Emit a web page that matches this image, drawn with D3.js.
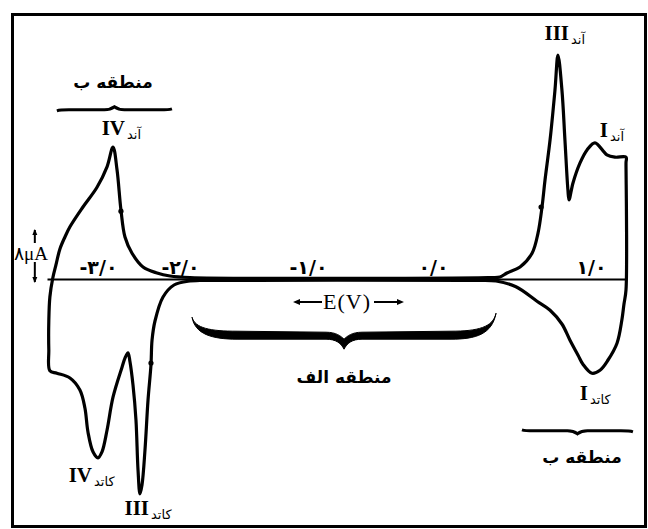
<!DOCTYPE html>
<html><head><meta charset="utf-8">
<script src="https://cdn.jsdelivr.net/npm/d3@7"></script>
<style>body{margin:0;background:#fff} svg{display:block}</style>
</head><body>
<svg id="c" width="648" height="529"></svg>
<script>
// ---- axis ticks (E in V, Persian labels) ----
const tickValues = [-3, -2, -1, 0, 1];
const tickLabels = ["-۳/۰", "-۲/۰", "-۱/۰", "۰/۰", "۱/۰"];
const axisDomainE = [-3.62, -3, -2, -1, 0, 1, 1.222];

// ---- anodic (forward) sweep: E (V), i (μA) ----
const anodicE = [-3.549,-3.512,-3.463,-3.402,-3.341,-3.183,-3.012,-2.890,-2.817,-2.768,-2.720,-2.671,-2.585,-2.451,-2.280,-2.122,-1.922,0.348,0.424,0.468,0.551,0.627,0.665,0.690,0.709,0.741,0.772,0.791,0.816,0.835,0.854,0.861,0.886,0.930,0.975,1.025,1.101,1.152,1.222,1.222];
const anodicI = [0.2,2.3,5.0,7.0,8.7,12.0,15.3,18.7,22.0,18.2,11.5,7.0,4.3,2.0,1.0,0.5,0.25,0.25,0.33,1.0,2.0,4.3,7.7,12.0,16.5,23.2,31.5,37.3,31.5,23.2,14.8,13.2,16.0,19.3,21.5,22.7,20.7,20.3,20.3,19.3];

// ---- cathodic (reverse) sweep ----
const cathodicE = [1.222,1.209,1.196,1.165,1.108,1.057,1.006,0.949,0.918,0.867,0.816,0.741,0.658,0.525,0.399,0.234,-1.844,-1.922,-2.073,-2.207,-2.305,-2.341,-2.354,-2.390,-2.427,-2.463,-2.488,-2.512,-2.537,-2.573,-2.610,-2.634,-2.671,-2.707,-2.817,-2.890,-2.951,-3.000,-3.061,-3.122,-3.159,-3.220,-3.341,-3.500,-3.585,-3.598,-3.598,-3.585];
const cathodicI = [-1.8,-4.2,-6.8,-10.7,-13.5,-15.2,-15.7,-14.2,-12.7,-10.2,-7.5,-5.2,-3.7,-1.3,-0.33,-0.25,-0.25,-0.33,-1.0,-3.0,-7.0,-10.2,-14.3,-20.2,-28.5,-34.3,-35.8,-31.8,-23.5,-17.7,-13.8,-12.3,-13.2,-14.7,-19.7,-25.2,-28.8,-29.8,-28.8,-25.5,-21.5,-18.5,-16.5,-15.7,-15.3,-11.8,-7.0,-3.0];

// ---- sweep direction marks ----
const markE = [-2.720, 0.684, -2.354];
const markI = [11.3, 12.0, -14.0];

// ---- peak labels ----
const peakNumerals = ["IV", "III", "I", "IV", "III", "I"];
const peakSubs = ["آند", "آند", "آند", "کاتد", "کاتد", "کاتد"];
const peakLabelE = [-2.671, 0.861, 1.108, -3.073, -2.378, 0.981];
const peakLabelI = [24.0, 39.8, 23.7, -33.8, -39.3, -20.2];

// ---- region labels and braces ----
const regionNames = ["منطقه ب", "منطقه الف", "منطقه ب"];
const regionLabelE = [-2.817, -0.712, 0.943];
const regionLabelI = [31.8, -17.3, -30.7];
const braceE0 = [-3.50, -1.906, 0.563];
const braceE1 = [-2.098, 0.399, 1.266];
const braceI = [28.2, -8.7, -25.3];

// ---- scale bar (μA) and axis title ----
const scaleBarE = -3.768;
const scaleBarI = [0, 8];
const scaleBarLabel = "۸μA";
const axisTitle = "E(V)";
const axisTitleE = -0.688;
const axisTitleI = -5.0;

const svg = d3.select("#c");
const x = d3.scaleLinear().domain(axisDomainE).range([47, 98, 180, 308, 433, 591, 626]);
const y = d3.scaleLinear().domain([-40, 40]).range([519, 39]);

// frame
svg.append("rect").attr("x", 12.5).attr("y", 14.5).attr("width", 633).attr("height", 512)
  .attr("fill", "none").attr("stroke", "#000").attr("stroke-width", 3);

// axis
const ax = svg.append("g").attr("transform", `translate(0,${y(0)})`)
  .call(d3.axisTop(x).tickValues(tickValues).tickFormat((d, i) => tickLabels[i])
    .tickSize(0).tickSizeOuter(0).tickPadding(5));
ax.select(".domain").attr("stroke", "#000").attr("stroke-width", 2);
ax.selectAll("text").attr("font-family", "DejaVu Sans").attr("font-size", 19)
  .attr("font-weight", "bold").attr("letter-spacing", "5px").attr("fill", "#000")
  .attr("direction", "ltr");

// curve
const pts = anodicE.map((e, i) => [e, anodicI[i]])
  .concat(cathodicE.map((e, i) => [e, cathodicI[i]]));
const line = d3.line().x(d => x(d[0])).y(d => y(d[1]))
  .curve(d3.curveCatmullRomClosed.alpha(0.5));
svg.append("path").attr("d", line(pts)).attr("fill", "none")
  .attr("stroke", "#000").attr("stroke-width", 3.2).attr("stroke-linejoin", "round");

// direction marks
svg.selectAll(".mk").data(markE).enter().append("circle")
  .attr("cx", (d) => x(d)).attr("cy", (d, i) => y(markI[i])).attr("r", 2.6).attr("fill", "#000");

// peak labels
peakNumerals.forEach((n, k) => {
  const px = x(peakLabelE[k]), py = y(peakLabelI[k]);
  svg.append("text").attr("x", px).attr("y", py).attr("text-anchor", "end")
    .attr("font-family", "Liberation Serif").attr("font-weight", "bold").attr("font-size", 21)
    .text(n);
  svg.append("text").attr("x", px + 2).attr("y", py + 4).attr("text-anchor", "start")
    .attr("font-family", "DejaVu Sans").attr("font-size", 13).text(peakSubs[k]);
});

// braces
function flatBrace(x0, x1, yy, dir) {
  const xc = (x0 + x1) / 2;
  return `M${x0},${yy + 1 * dir}Q${x0 + 3},${yy} ${x0 + 12},${yy}L${xc - 10},${yy}Q${xc - 4},${yy} ${xc},${yy - 3 * dir}Q${xc + 4},${yy} ${xc + 10},${yy}L${x1 - 12},${yy}Q${x1 - 3},${yy} ${x1},${yy - 1 * dir}`;
}
function bigBrace(x0, x1, yT) {
  const xc = (x0 + x1) / 2;
  return `M${x0},${yT - 14}C${x0 + 3},${yT - 3} ${x0 + 18},${yT} ${x0 + 45},${yT}` +
    `L${xc - 18},${yT + 1}C${xc - 8},${yT + 1} ${xc - 3},${yT + 5} ${xc},${yT + 8}` +
    `C${xc + 3},${yT + 5} ${xc + 8},${yT + 1} ${xc + 18},${yT + 1}L${x1 - 45},${yT}` +
    `C${x1 - 18},${yT} ${x1 - 3},${yT - 4} ${x1},${yT - 18}` +
    `C${x1 - 4},${yT + 3} ${x1 - 20},${yT + 8} ${x1 - 45},${yT + 8}L${xc + 18},${yT + 8}` +
    `C${xc + 8},${yT + 8} ${xc + 3},${yT + 12} ${xc},${yT + 18}` +
    `C${xc - 3},${yT + 12} ${xc - 8},${yT + 8} ${xc - 18},${yT + 8}L${x0 + 45},${yT + 8}` +
    `C${x0 + 20},${yT + 8} ${x0 + 3},${yT + 3} ${x0},${yT - 14}Z`;
}
svg.append("path").attr("d", flatBrace(x(braceE0[0]), x(braceE1[0]), y(braceI[0]), 1))
  .attr("fill", "none").attr("stroke", "#000").attr("stroke-width", 3);
svg.append("path").attr("d", bigBrace(x(braceE0[1]), x(braceE1[1]), y(braceI[1])))
  .attr("fill", "#000").attr("stroke", "#000").attr("stroke-width", 1);
svg.append("path").attr("d", flatBrace(x(braceE0[2]), x(braceE1[2]), y(braceI[2]), -1))
  .attr("fill", "none").attr("stroke", "#000").attr("stroke-width", 3);

regionNames.forEach((n, k) => {
  svg.append("text").attr("x", x(regionLabelE[k])).attr("y", y(regionLabelI[k]))
    .attr("text-anchor", "middle").attr("font-family", "DejaVu Sans").attr("font-weight", "bold")
    .attr("font-size", 17).text(n);
});

// axis title with arrows
const tx = x(axisTitleE), ty = y(axisTitleI);
svg.append("text").attr("x", tx).attr("y", ty).attr("text-anchor", "middle")
  .attr("font-family", "Liberation Serif").attr("font-size", 22).attr("letter-spacing", "1px").text(axisTitle);
const ay = ty - 7;
svg.append("path").attr("d", `M${tx - 25},${ay}L${tx - 50},${ay}M${tx + 27},${ay}L${tx + 53},${ay}`)
  .attr("stroke", "#000").attr("stroke-width", 2);
svg.append("path").attr("d", `M${tx - 54},${ay}l7,-3l0,6Z M${tx + 57},${ay}l-7,-3l0,6Z`).attr("fill", "#000");

// scale bar
const sx = x(scaleBarE), sy0 = y(scaleBarI[0]) + 3, sy1 = y(scaleBarI[1]) - 1;
svg.append("path").attr("d", `M${sx},${sy1}L${sx},${sy1 + 13}M${sx},${sy0 - 20}L${sx},${sy0}`)
  .attr("stroke", "#000").attr("stroke-width", 2);
svg.append("path").attr("d", `M${sx},${sy1 - 1}l-2.5,6l5,0Z M${sx},${sy0 + 1}l-2.5,-6l5,0Z`).attr("fill", "#000");
svg.append("text").attr("x", 14).attr("y", y(3.2)).attr("font-family", "Liberation Serif")
  .attr("font-size", 19).attr("direction", "ltr").attr("unicode-bidi", "plaintext").text(scaleBarLabel);
</script>
</body></html>
